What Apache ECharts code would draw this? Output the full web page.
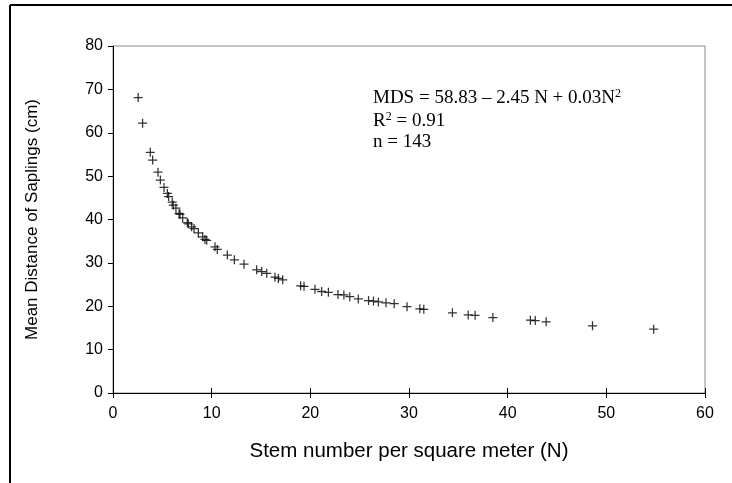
<!DOCTYPE html>
<html>
<head>
<meta charset="utf-8">
<script src="https://cdn.jsdelivr.net/npm/echarts@6/dist/echarts.min.js"></script>
<style>
  html, body { margin: 0; padding: 0; background: #fff; }
  #chart { width: 732px; height: 483px; }
</style>
</head>
<body>
<div id="chart"></div>
<script>
// Stem density (N, stems per m²) and mean sapling distance (cm)
const stemNumber = [2.55, 3.0, 3.78, 4.02, 4.56, 4.8, 5.17, 5.51, 5.64, 6.0, 6.11, 6.38, 6.7, 6.79,
  7.06, 7.53, 7.63, 7.97, 8.21, 8.65, 9.09, 9.32, 9.5, 10.34, 10.57, 11.59, 12.3, 13.28, 14.56,
  15.07, 15.58, 16.42, 16.76, 17.2, 19.02, 19.36, 20.47, 21.15, 21.83, 22.8, 23.4, 24.0, 24.86,
  25.9, 26.4, 26.9, 27.67, 28.5, 29.8, 31.1, 31.5, 34.4, 36.0, 36.7, 38.5, 42.3, 42.8, 43.9,
  48.6, 54.8];
const meanDistance = [68.1, 62.2, 55.5, 53.7, 50.9, 49.1, 47.4, 46.0, 45.3, 44.0, 43.3, 42.6, 41.4, 41.2,
  40.4, 39.3, 39.0, 38.3, 37.9, 36.9, 36.0, 35.4, 35.2, 33.7, 33.1, 31.8, 30.7, 29.7, 28.4,
  28.0, 27.6, 26.7, 26.4, 26.1, 24.7, 24.6, 23.9, 23.4, 23.2, 22.7, 22.6, 22.2, 21.7,
  21.3, 21.2, 21.0, 20.8, 20.6, 19.9, 19.4, 19.3, 18.5, 18.0, 17.9, 17.4, 16.8, 16.7, 16.4,
  15.5, 14.7];

const xTicks = { min: 0, max: 60, interval: 10 };
const yTicks = { min: 0, max: 80, interval: 10 };

// Regression summary, with superscripts marked as rich-text fragments
const regressionLines = [
  'MDS = 58.83 \u2013 2.45 N + 0.03N{sup|2}',
  'R{sup|2} = 0.91',
  'n = 143'
];

const points = stemNumber.map((x, i) => [x, meanDistance[i]]);

const sansFont = '"Liberation Sans", Arial, sans-serif';
const serifFont = '"Liberation Serif", "Times New Roman", serif';

const chart = echarts.init(document.getElementById('chart'), null, { renderer: 'canvas' });

const baseX = {
  type: 'value',
  gridIndex: 0,
  position: 'bottom',
  min: xTicks.min, max: xTicks.max, interval: xTicks.interval,
  splitLine: { show: false }
};

const noteRich = {
  sup: { fontFamily: serifFont, fontSize: 12, verticalAlign: 'top', padding: [0, 0, 8, 0], fill: '#000' }
};

function noteText(text, top) {
  return {
    type: 'text', left: 373, top: top,
    style: {
      text: text, fontFamily: serifFont, fontSize: 19, fill: '#000',
      rich: noteRich
    }
  };
}

chart.setOption({
  animation: false,
  backgroundColor: '#fff',
  grid: {
    left: 113, right: 27, top: 46, bottom: 90,
    show: true, borderColor: '#8c8c8c', borderWidth: 1
  },
  xAxis: [
    Object.assign({}, baseX, {
      name: 'Stem number per square meter (N)',
      nameLocation: 'middle',
      nameGap: 48,
      nameTextStyle: { fontFamily: sansFont, fontSize: 20.5, color: '#000' },
      axisLine: { lineStyle: { color: '#000', width: 1 } },
      axisTick: { inside: false, length: 5, lineStyle: { color: '#000' } },
      axisLabel: { fontFamily: sansFont, fontSize: 16, color: '#000', margin: 13 }
    }),
    // inward half of the crossing tick marks
    Object.assign({}, baseX, {
      axisLine: { show: false },
      axisTick: { inside: true, length: 5, lineStyle: { color: '#000' } },
      axisLabel: { show: false }
    })
  ],
  yAxis: {
    type: 'value',
    min: yTicks.min, max: yTicks.max, interval: yTicks.interval,
    name: 'Mean Distance of Saplings (cm)',
    nameLocation: 'middle',
    nameGap: 72,
    nameTextStyle: { fontFamily: sansFont, fontSize: 17, color: '#000' },
    splitLine: { show: false },
    axisLine: { show: true, lineStyle: { color: '#000', width: 1 } },
    axisTick: { show: true, inside: false, length: 5, lineStyle: { color: '#000' } },
    axisLabel: { fontFamily: sansFont, fontSize: 16, color: '#000', margin: 10 }
  },
  series: [{
    type: 'scatter',
    xAxisIndex: 0,
    data: points,
    symbol: 'path://M4.3,0H5.7V10H4.3Z M0,4.3H10V5.7H0Z',
    symbolSize: 9,
    itemStyle: { color: '#000' },
    z: 5
  }],
  graphic: [
    { type: 'line', shape: { x1: 10, y1: 5, x2: 732, y2: 5 }, style: { stroke: '#000', lineWidth: 2 } },
    { type: 'line', shape: { x1: 10, y1: 5, x2: 10, y2: 483 }, style: { stroke: '#000', lineWidth: 2 } },
    noteText(regressionLines[0], 88),
    noteText(regressionLines[1], 111),
    noteText(regressionLines[2], 133)
  ]
});
</script>
</body>
</html>
